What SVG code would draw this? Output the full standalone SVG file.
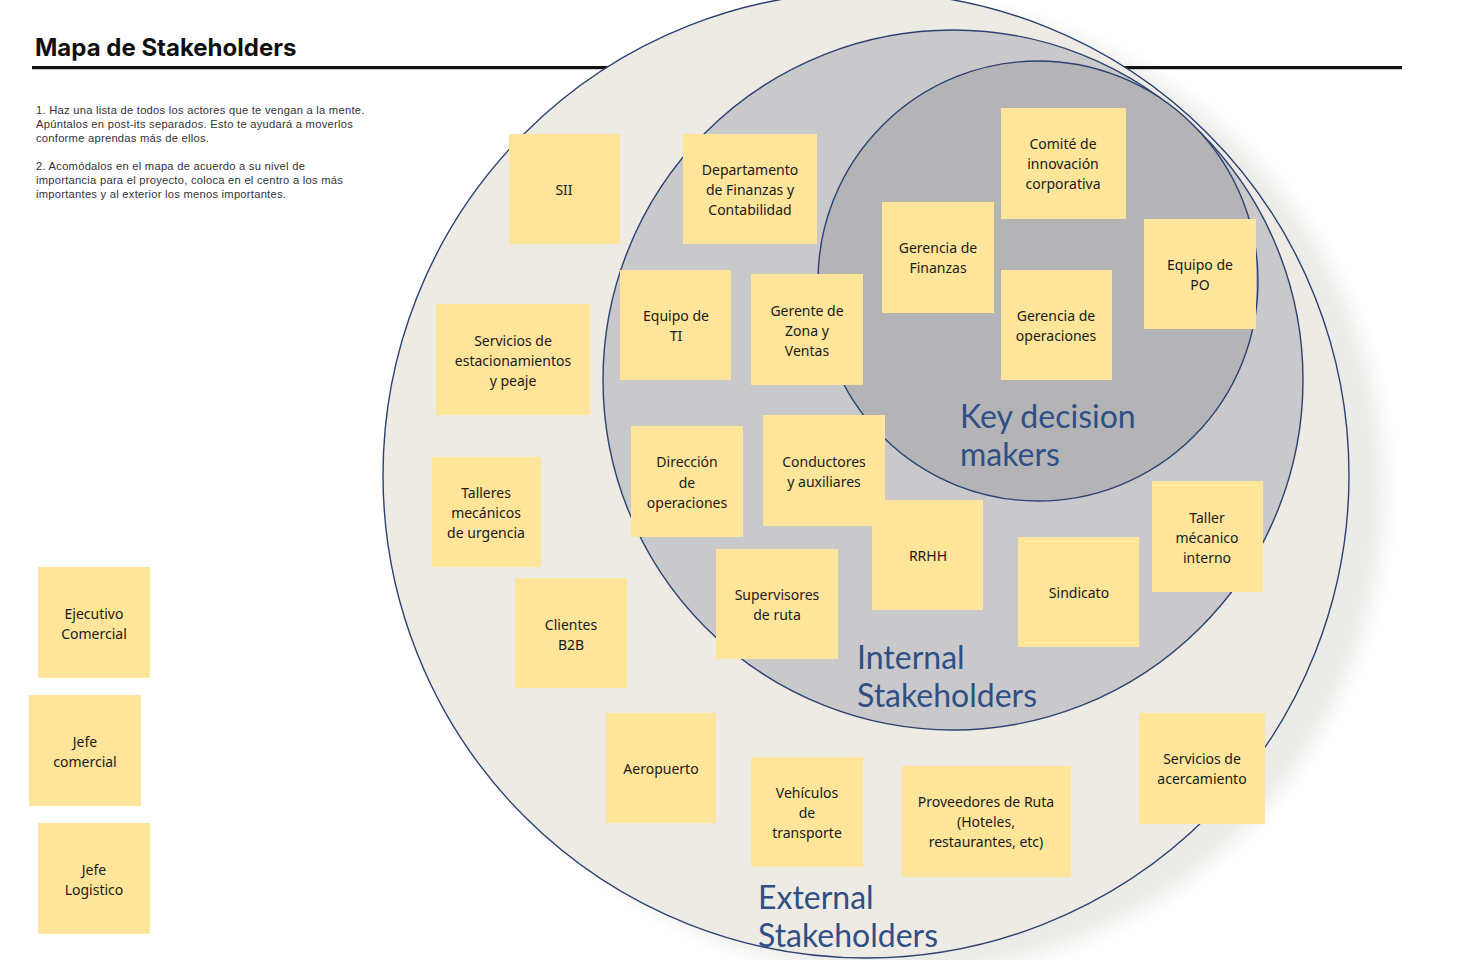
<svg xmlns="http://www.w3.org/2000/svg" width="1474" height="960" viewBox="0 0 1474 960">
<defs>
<filter id="halo" x="-20%" y="-20%" width="140%" height="140%"><feGaussianBlur stdDeviation="9"/></filter>
</defs>
<style>
.note rect{fill:#FEE59A;}
.note text{font-family:"Noto Sans","Liberation Sans",sans-serif;font-size:14px;fill:#1a1a1a;text-anchor:middle;}
.ring{stroke:#2B4272;stroke-width:1.4;}
.lbl{font-family:Lato,"Noto Sans",sans-serif;font-size:32px;fill:#2F4F86;}
.ins{font-family:"Liberation Sans",Arial,sans-serif;font-size:11.2px;letter-spacing:0.25px;fill:#333;}
</style>
<rect width="1474" height="960" fill="#fff"/>
<circle cx="900" cy="490" r="484" fill="#ebebe8" filter="url(#halo)"/>
<text x="35" y="56" font-family="Inter,'DejaVu Sans',sans-serif" font-weight="700" font-size="24" fill="#111">Mapa de Stakeholders</text>
<rect x="32" y="66" width="1370" height="3.2" fill="#111"/>
<g class="ins">
<text x="36" y="114">1. Haz una lista de todos los actores que te vengan a la mente.</text>
<text x="36" y="128">Apúntalos en post-its separados. Esto te ayudará a moverlos</text>
<text x="36" y="142">conforme aprendas más de ellos.</text>
<text x="36" y="170">2. Acomódalos en el mapa de acuerdo a su nivel de</text>
<text x="36" y="184">importancia para el proyecto, coloca en el centro a los más</text>
<text x="36" y="198">importantes y al exterior los menos importantes.</text>
</g>
<g id="external-circle"><circle class="ring" cx="866" cy="475" r="483" fill="#EDEBE3"/></g>
<g id="internal-circle"><circle class="ring" cx="953" cy="380" r="350" fill="#C9C9CB"/></g>
<g id="key-circle"><circle class="ring" cx="1038" cy="281" r="220" fill="#B4B4B6"/></g>
<g id="labels">
<text class="lbl" x="960" y="428">Key decision</text>
<text class="lbl" x="960" y="466">makers</text>
<text class="lbl" x="857" y="669">Internal</text>
<text class="lbl" x="857" y="707">Stakeholders</text>
<text class="lbl" x="758" y="909">External</text>
<text class="lbl" x="758" y="947">Stakeholders</text>
</g>
<g id="n-sii" class="note"><rect x="509" y="134" width="111" height="110"/><text x="564" y="195">SII</text></g>
<g id="n-finanzas-cont" class="note"><rect x="683" y="134" width="134" height="110"/><text x="750" y="175">Departamento</text><text x="750" y="195">de Finanzas y</text><text x="750" y="215">Contabilidad</text></g>
<g id="n-comite" class="note"><rect x="1001" y="108" width="125" height="111"/><text x="1063" y="149">Comité de</text><text x="1063" y="169">innovación</text><text x="1063" y="189">corporativa</text></g>
<g id="n-gerencia-finanzas" class="note"><rect x="882" y="202" width="112" height="111"/><text x="938" y="253">Gerencia de</text><text x="938" y="273">Finanzas</text></g>
<g id="n-equipo-po" class="note"><rect x="1144" y="219" width="112" height="110"/><text x="1200" y="270">Equipo de</text><text x="1200" y="290">PO</text></g>
<g id="n-gerencia-ops" class="note"><rect x="1001" y="270" width="111" height="110"/><text x="1056" y="321">Gerencia de</text><text x="1056" y="341">operaciones</text></g>
<g id="n-equipo-ti" class="note"><rect x="620" y="270" width="111" height="110"/><text x="676" y="321">Equipo de</text><text x="676" y="341">TI</text></g>
<g id="n-gerente-zona" class="note"><rect x="751" y="274" width="112" height="111"/><text x="807" y="316">Gerente de</text><text x="807" y="336">Zona y</text><text x="807" y="356">Ventas</text></g>
<g id="n-estacionamientos" class="note"><rect x="436" y="304" width="154" height="111"/><text x="513" y="346">Servicios de</text><text x="513" y="366">estacionamientos</text><text x="513" y="386">y peaje</text></g>
<g id="n-direccion-ops" class="note"><rect x="631" y="426" width="112" height="111"/><text x="687" y="467">Dirección</text><text x="687" y="488">de</text><text x="687" y="508">operaciones</text></g>
<g id="n-conductores" class="note"><rect x="763" y="415" width="122" height="111"/><text x="824" y="467">Conductores</text><text x="824" y="487">y auxiliares</text></g>
<g id="n-talleres" class="note"><rect x="432" y="457" width="109" height="110"/><text x="486" y="498">Talleres</text><text x="486" y="518">mecánicos</text><text x="486" y="538">de urgencia</text></g>
<g id="n-clientes" class="note"><rect x="515" y="578" width="112" height="110"/><text x="571" y="630">Clientes</text><text x="571" y="650">B2B</text></g>
<g id="n-rrhh" class="note"><rect x="872" y="500" width="111" height="110"/><text x="928" y="561">RRHH</text></g>
<g id="n-sindicato" class="note"><rect x="1018" y="537" width="121" height="110"/><text x="1079" y="598">Sindicato</text></g>
<g id="n-taller-interno" class="note"><rect x="1152" y="481" width="111" height="111"/><text x="1207" y="523">Taller</text><text x="1207" y="543">mécanico</text><text x="1207" y="563">interno</text></g>
<g id="n-supervisores" class="note"><rect x="716" y="549" width="122" height="110"/><text x="777" y="600">Supervisores</text><text x="777" y="620">de ruta</text></g>
<g id="n-aeropuerto" class="note"><rect x="606" y="713" width="110" height="110"/><text x="661" y="774">Aeropuerto</text></g>
<g id="n-vehiculos" class="note"><rect x="751" y="757" width="112" height="110"/><text x="807" y="798">Vehículos</text><text x="807" y="818">de</text><text x="807" y="838">transporte</text></g>
<g id="n-proveedores" class="note"><rect x="902" y="766" width="169" height="111"/><text x="986" y="807">Proveedores de Ruta</text><text x="986" y="827">(Hoteles,</text><text x="986" y="847">restaurantes, etc)</text></g>
<g id="n-acercamiento" class="note"><rect x="1139" y="713" width="126" height="111"/><text x="1202" y="764">Servicios de</text><text x="1202" y="784">acercamiento</text></g>
<g id="n-ejecutivo" class="note"><rect x="38" y="567" width="112" height="111"/><text x="94" y="619">Ejecutivo</text><text x="94" y="639">Comercial</text></g>
<g id="n-jefe-comercial" class="note"><rect x="29" y="695" width="112" height="111"/><text x="85" y="747">Jefe</text><text x="85" y="767">comercial</text></g>
<g id="n-jefe-logistico" class="note"><rect x="38" y="823" width="112" height="111"/><text x="94" y="875">Jefe</text><text x="94" y="895">Logistico</text></g>
</svg>
